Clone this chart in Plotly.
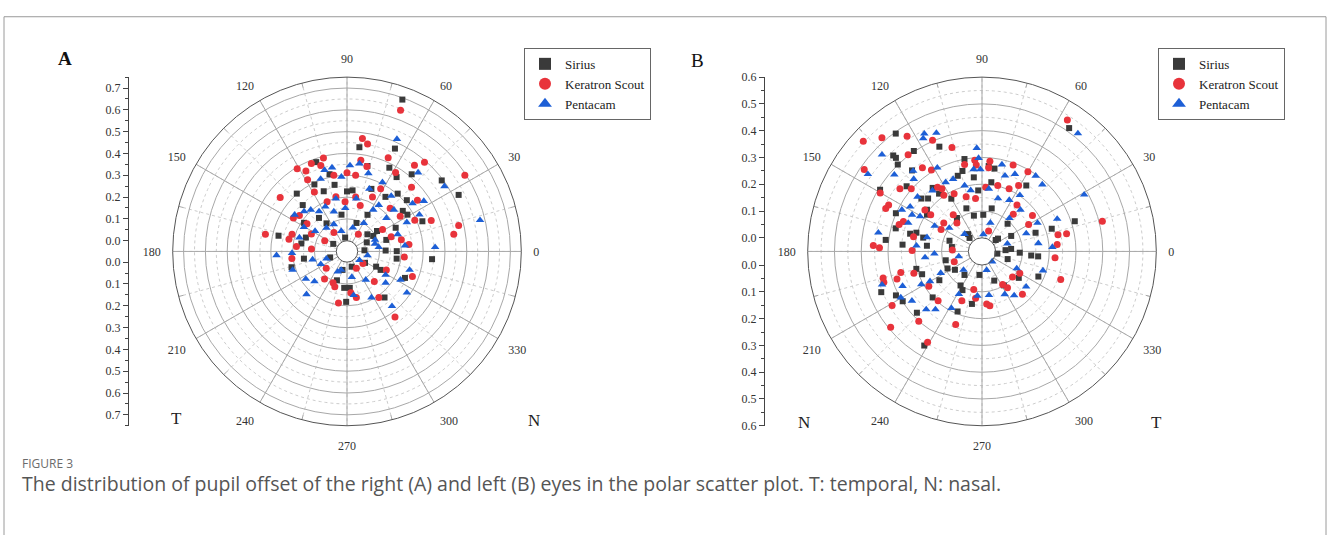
import numpy as np
import plotly.graph_objects as go

# ---------------- data: pupil offset components (X horizontal, Y vertical, mm) ----------------
A_SIRIUS = [(0.237,0.650),(0.051,0.429),(0.199,0.427),(-0.125,0.363),(0.172,0.340),(0.082,0.344),
            (-0.069,0.306),(0.200,0.300),(0.265,0.316),(0.395,0.296),(0.468,0.237),(-0.198,0.228),
            (-0.169,0.177),(-0.128,0.263),(-0.089,0.230),(-0.048,0.257),(0.000,0.226),(0.021,0.231),
            (0.094,0.241),(0.148,0.210),(0.200,0.228),(0.237,0.203),(0.235,0.143),(0.216,0.157),
            (0.300,0.120),(0.028,0.084),(0.070,0.125),(-0.018,0.120),(-0.065,0.089),(-0.097,0.116),
            (-0.156,0.104),(-0.142,0.048),(-0.161,0.028),(-0.266,0.061),(-0.020,0.011),(-0.002,0.015),
            (0.056,0.047),(0.097,0.066),(0.133,0.039),(0.179,0.087),(0.046,0.021),(0.031,0.002),
            (0.128,0.003),(0.179,0.001),(0.341,-0.031),(0.179,-0.026),(-0.149,-0.025),(-0.207,-0.059),
            (-0.031,-0.011),(0.007,-0.023),(0.041,-0.026),(0.090,-0.047),(0.111,-0.061),(0.221,-0.101),
            (-0.030,-0.086),(-0.009,-0.118),(0.009,-0.118),(-0.003,-0.182),(0.141,-0.173),(-0.009,-0.037),
            (0.078,0.046)]
A_KERATRON = [(0.228,0.601),(0.064,0.469),(0.085,0.444),(0.169,0.384),(0.056,0.370),(0.080,0.341),
              (0.197,0.320),(0.279,0.356),(0.323,0.372),(0.499,0.323),(-0.096,0.381),(-0.145,0.358),
              (-0.203,0.337),(-0.166,0.325),(-0.157,0.286),(-0.106,0.347),(-0.052,0.301),(0.034,0.301),
              (0.000,0.312),(-0.268,0.216),(-0.126,0.229),(-0.073,0.182),(-0.041,0.202),(-0.007,0.179),
              (0.032,0.201),(0.047,0.163),(0.096,0.205),(0.131,0.244),(0.163,0.163),(0.203,0.134),
              (0.261,0.260),(0.283,0.206),(0.266,0.122),(0.340,0.125),(0.464,0.108),(0.441,0.071),
              (-0.204,0.127),(-0.179,0.135),(-0.143,0.099),(-0.326,0.069),(-0.205,0.064),(-0.218,0.046),
              (-0.183,0.018),(-0.058,0.028),(-0.119,0.058),(-0.032,0.046),(0.025,0.038),(0.121,0.075),
              (0.201,0.043),(0.235,0.026),(0.214,-0.021),(0.254,-0.097),(0.136,-0.064),(-0.204,-0.026),
              (-0.114,0.008),(-0.057,-0.046),(-0.072,-0.088),(-0.044,-0.099),(-0.040,-0.116),(-0.031,-0.188),
              (0.013,-0.140),(0.033,-0.163),(0.019,-0.034),(0.034,-0.026),(0.092,-0.101),(0.118,-0.171),
              (0.191,-0.261),(0.156,0.052)]
A_PENTACAM = [(0.209,0.470),(0.012,0.345),(0.050,0.354),(-0.060,0.336),(-0.090,0.326),(-0.104,0.286),
              (-0.022,0.293),(0.085,0.311),(0.140,0.273),(0.293,0.325),(0.406,0.271),(0.172,0.216),
              (0.118,0.172),(0.086,0.241),(0.034,0.194),(-0.006,0.149),(-0.041,0.194),(-0.045,0.136),
              (-0.078,0.161),(-0.100,0.143),(-0.134,0.154),(-0.161,0.150),(-0.200,0.140),(-0.155,0.087),
              (-0.171,0.050),(-0.203,-0.006),(-0.274,-0.015),(-0.105,0.067),(-0.062,0.071),(-0.039,0.080),
              (-0.013,0.046),(0.015,0.061),(0.052,0.088),(0.094,0.149),(0.143,0.121),(0.178,0.158),
              (0.230,0.112),(0.288,0.146),(0.311,0.204),(0.261,0.191),(0.562,0.132),(0.097,0.013),
              (0.083,0.034),(0.217,0.022),(0.355,0.017),(0.186,0.063),(-0.110,-0.026),(-0.048,-0.017),
              (-0.022,-0.048),(-0.012,-0.038),(0.017,-0.012),(0.046,-0.009),(0.081,0.022),(0.135,-0.082),
              (0.202,-0.107),(0.240,-0.071),(0.234,-0.161),(0.139,-0.113),(0.089,-0.168),(0.175,-0.213),
              (0.059,-0.089),(0.013,-0.069),(-0.148,-0.099),(-0.113,-0.104),(-0.152,-0.161),(-0.203,-0.069),
              (-0.076,-0.037),(0.023,-0.152)]

B_SIRIUS = [(0.296,0.419),(-0.292,0.399),(-0.297,0.321),(-0.287,0.312),(-0.279,0.288),(-0.226,0.333),
            (-0.140,0.344),(-0.056,0.295),(-0.228,0.264),(-0.243,0.210),(-0.337,0.204),(-0.275,0.122),
            (-0.309,0.037),(-0.273,0.073),(-0.246,0.021),(-0.219,0.054),(-0.196,0.056),(-0.170,0.040),
            (-0.165,0.125),(-0.163,0.109),(-0.188,0.164),(-0.153,0.197),(-0.165,0.162),(-0.130,0.175),
            (-0.089,0.153),(-0.075,0.234),(-0.061,0.251),(-0.025,0.226),(-0.011,0.177),(-0.041,0.113),
            (-0.019,0.084),(0.003,0.086),(-0.063,0.084),(0.021,0.268),(0.039,0.259),(0.028,0.208),
            (0.025,0.111),(0.012,0.010),(0.020,0.016),(0.061,0.066),(0.064,0.034),(0.137,0.204),
            (0.152,0.053),(0.212,0.069),(0.298,0.097),(0.037,0.002),(0.058,0.005),(0.090,-0.003),
            (0.133,-0.011),(0.159,-0.014),(0.007,-0.001),(0.047,-0.014),(0.096,-0.069),(0.164,-0.073),
            (0.054,-0.084),(0.026,-0.062),(-0.004,-0.037),(-0.035,-0.047),(-0.059,-0.040),(-0.053,-0.084),
            (-0.050,-0.099),(-0.028,-0.146),(-0.072,-0.177),(-0.117,-0.079),(-0.147,-0.137),(-0.176,-0.067),
            (-0.196,-0.052),(-0.086,-0.021),(-0.083,-0.041),(-0.253,-0.159),(-0.276,-0.141),(-0.329,-0.133),
            (-0.206,-0.194),(-0.189,-0.308),(-0.155,0.016),(-0.073,0.024),(-0.062,0.009),(-0.020,0.025),
            (-0.012,0.013)]
B_KERATRON = [(0.291,0.448),(-0.406,0.377),(-0.398,0.277),(-0.340,0.386),(-0.252,0.387),(-0.245,0.321),
              (-0.164,0.369),(-0.098,0.339),(-0.055,0.275),(-0.023,0.290),(-0.018,0.272),(0.021,0.262),
              (0.025,0.286),(0.099,0.275),(0.146,0.253),(0.112,0.202),(0.081,0.187),(0.047,0.197),
              (0.011,0.189),(-0.018,0.147),(-0.045,0.155),(-0.082,0.170),(-0.122,0.191),(-0.114,0.168),
              (-0.137,0.198),(-0.162,0.261),(-0.193,0.271),(-0.226,0.200),(-0.266,0.203),(-0.336,0.193),
              (-0.313,0.140),(-0.303,0.151),(-0.246,0.094),(-0.261,0.085),(-0.355,0.019),(-0.332,0.012),
              (-0.206,0.044),(-0.210,0.003),(-0.172,0.125),(-0.150,0.107),(-0.102,0.076),(-0.108,0.058),
              (-0.076,0.097),(-0.060,0.068),(-0.060,0.003),(0.100,0.133),(0.084,0.100),(0.130,0.075),
              (0.147,0.105),(0.234,0.051),(0.266,0.056),(0.400,0.100),(0.230,0.021),(0.222,-0.019),
              (0.246,-0.088),(0.097,-0.056),(0.075,-0.063),(0.116,-0.123),(0.066,-0.094),(0.009,0.028),
              (0.013,-0.146),(0.022,-0.152),(-0.020,-0.092),(-0.056,-0.137),(-0.081,-0.225),(-0.056,-0.021),
              (-0.130,-0.146),(-0.156,-0.102),(-0.206,-0.066),(-0.254,-0.066),(-0.269,-0.087),(-0.320,-0.086),
              (-0.318,-0.100),(-0.292,-0.176),(-0.302,-0.251),(-0.202,-0.223),(-0.177,-0.295),(-0.017,-0.124),
              (0.050,-0.080)]
B_PENTACAM = [(0.326,0.401),(-0.017,0.335),(-0.193,0.394),(-0.152,0.395),(-0.196,0.377),(-0.337,0.326),
              (-0.289,0.253),(-0.384,0.260),(-0.224,0.262),(-0.143,0.268),(-0.011,0.298),(-0.026,0.256),
              (-0.005,0.256),(0.063,0.275),(0.071,0.234),(0.103,0.242),(0.171,0.241),(0.191,0.212),
              (0.113,0.168),(0.078,0.147),(0.045,0.149),(0.020,0.183),(-0.052,0.197),(-0.033,0.178),
              (-0.089,0.223),(-0.112,0.213),(-0.153,0.188),(-0.202,0.171),(-0.225,0.140),(-0.220,0.233),
              (-0.216,0.113),(-0.254,0.132),(-0.337,0.061),(-0.228,0.088),(-0.187,0.106),(-0.132,0.071),
              (-0.156,0.040),(-0.194,0.017),(-0.162,-0.017),(-0.127,-0.006),(-0.081,0.058),(-0.029,0.029),
              (0.001,0.013),(0.017,0.058),(0.070,0.085),(0.109,0.118),(0.162,0.083),(0.234,0.101),
              (0.337,0.187),(0.118,0.048),(0.160,0.023),(0.212,0.013),(0.179,-0.056),(0.125,-0.100),
              (0.090,-0.123),(0.061,-0.115),(0.084,-0.041),(0.002,-0.002),(0.046,0.014),(0.018,-0.113),
              (-0.012,-0.115),(-0.062,-0.115),(-0.090,-0.167),(-0.142,-0.177),(-0.173,-0.180),(-0.220,-0.155),
              (-0.250,-0.109),(-0.325,-0.108),(-0.259,-0.147),(-0.182,-0.099),(-0.150,-0.086),(-0.109,-0.057),
              (-0.037,-0.008),(-0.033,-0.033),(0.005,-0.020)]

SERIES = ["Sirius", "Keratron Scout", "Pentacam"]
ANGLE_TICKS = list(range(0, 360, 15))          # labelled every 30 degrees
RMAX_A, RMAX_B = 0.75, 0.6
RAD_TICKS_A = [0.0, 0.1, 0.2, 0.3, 0.4, 0.5, 0.6, 0.7]
RAD_TICKS_B = [0.0, 0.1, 0.2, 0.3, 0.4, 0.5, 0.6]
RAD_MINOR_A = [0.05, 0.15, 0.25, 0.35, 0.45, 0.55, 0.65, 0.75]
RAD_MINOR_B = [0.05, 0.15, 0.25, 0.35, 0.45, 0.55]

# ---------------- styling / geometry ----------------
W, H = 1328, 535
CX_A, CX_B, CY, R = 347, 982, 251, 179
HOLE_A, HOLE_B = 11 / 179, 14 / 179
AXLINE_A, AXLINE_B = 129, 765
SERIF = "Liberation Serif, Times New Roman, serif"
SANS = "Open Sans, Noto Sans, sans-serif"
STYLE = {
    "Sirius": dict(symbol="square", size=6, color="#3a3a3a"),
    "Keratron Scout": dict(symbol="circle", size=7, color="#e8333b"),
    "Pentacam": dict(symbol="triangle-up", size=7.5, color="#1d5fd6"),
}

fig = go.Figure()


def polar_of(pairs):
    arr = np.array(pairs, dtype=float)
    r = np.hypot(arr[:, 0], arr[:, 1])
    th = np.degrees(np.arctan2(arr[:, 1], arr[:, 0])) % 360
    return r, th


def add_grid(sub, rmax, minor_r):
    th = np.arange(0, 361, 2)
    rr, tt = [], []
    for r in minor_r:
        if r >= rmax - 1e-9:
            continue
        rr += [r] * len(th) + [None]
        tt += list(th) + [None]
    fig.add_trace(go.Scatterpolar(r=rr, theta=tt, mode="lines", subplot=sub,
                                  line=dict(color="#cccccc", width=1, dash="dot"),
                                  showlegend=False, hoverinfo="skip"))
    rr, tt = [], []
    for a in ANGLE_TICKS:
        if a % 30 == 0:
            rr += [0, rmax, None]
        else:  # short inner tick on the outer ring
            rr += [rmax * 0.97, rmax, None]
        tt += [a, a, None]
    fig.add_trace(go.Scatterpolar(r=rr, theta=tt, mode="lines", subplot=sub,
                                  line=dict(color="#a8a8a8", width=1),
                                  showlegend=False, hoverinfo="skip"))


add_grid("polar", RMAX_A, RAD_MINOR_A)
add_grid("polar2", RMAX_B, RAD_MINOR_B)

for sub, leg, groups in [("polar", "legend", [A_SIRIUS, A_KERATRON, A_PENTACAM]),
                         ("polar2", "legend2", [B_SIRIUS, B_KERATRON, B_PENTACAM])]:
    for name, pairs in zip(SERIES, groups):
        r, th = polar_of(pairs)
        st = STYLE[name]
        fig.add_trace(go.Scatterpolar(
            r=r, theta=th, mode="markers", name=name, subplot=sub, legend=leg,
            marker=dict(symbol=st["symbol"], size=st["size"], color=st["color"], line=dict(width=0)),
        ))

# dummy traces so the left radial scales render
fig.add_trace(go.Scatter(x=[None], y=[None], xaxis="x", yaxis="y", showlegend=False, hoverinfo="skip"))
fig.add_trace(go.Scatter(x=[None], y=[None], xaxis="x2", yaxis="y2", showlegend=False, hoverinfo="skip"))


def polar_layout(cx, rmax, hole, rticks):
    return dict(
        domain=dict(x=[(cx - R) / W, (cx + R) / W], y=[(H - CY - R) / H, (H - CY + R) / H]),
        bgcolor="white",
        hole=hole,
        radialaxis=dict(range=[0, rmax], tickvals=[t for t in rticks if t > 0],
                        showticklabels=False, ticks="", showline=False,
                        showgrid=True, gridcolor="#a8a8a8", gridwidth=1),
        angularaxis=dict(rotation=0, direction="counterclockwise",
                         tickvals=ANGLE_TICKS,
                         ticktext=[str(a) if a % 30 == 0 else "" for a in ANGLE_TICKS],
                         ticks="outside", ticklen=9, tickcolor="rgba(0,0,0,0)",
                         showline=True, linecolor="#555555", linewidth=1,
                         showgrid=True, gridcolor="#cccccc", griddash="dot",
                         tickfont=dict(family=SERIF, size=12, color="#333333")),
    )


def side_axis(rmax, hole, rticks, rminor, anchor):
    f = lambda r: hole + r / rmax * (1 - hole)
    vals = [f(r) for r in rticks] + [-f(r) for r in rticks]
    text = [f"{r:.1f}" for r in rticks] * 2
    mvals = [f(r) for r in rminor] + [-f(r) for r in rminor]
    return dict(anchor=anchor, domain=[(H - CY - R) / H, (H - CY + R) / H], range=[-1, 1],
                tickmode="array", tickvals=vals, ticktext=text, ticks="outside", ticklen=5,
                tickcolor="#444444", showline=True, linecolor="#444444", linewidth=1,
                showgrid=False, zeroline=False, fixedrange=True,
                tickfont=dict(family=SERIF, size=12, color="#333333"),
                minor=dict(tickmode="array", tickvals=mvals, ticks="outside", ticklen=3,
                           tickcolor="#444444", showgrid=False))


def legend_at(x_px):
    return dict(x=x_px / W, y=1 - 42 / H, xanchor="left", yanchor="top",
                bgcolor="white", bordercolor="#666666", borderwidth=1,
                font=dict(family=SERIF, size=13, color="#222222"),
                tracegroupgap=0, itemsizing="constant")


annotations = [
    dict(text="<b>A</b>", x=65 / W, y=1 - 53 / H, font=dict(family=SERIF, size=19, color="#111")),
    dict(text="B", x=697 / W, y=1 - 55 / H, font=dict(family=SERIF, size=19, color="#111")),
    dict(text="T", x=176 / W, y=1 - 423 / H, font=dict(family=SERIF, size=17, color="#222")),
    dict(text="N", x=534 / W, y=1 - 425 / H, font=dict(family=SERIF, size=17, color="#222")),
    dict(text="N", x=804 / W, y=1 - 427 / H, font=dict(family=SERIF, size=17, color="#222")),
    dict(text="T", x=1156 / W, y=1 - 427 / H, font=dict(family=SERIF, size=17, color="#222")),
    dict(text="FIGURE 3", x=20 / W, y=1 - 469 / H, xanchor="left",
         font=dict(family=SANS, size=12, color="#6b6b6b")),
    dict(text="The distribution of pupil offset of the right (A) and left (B) eyes in the polar scatter plot. "
              "T: temporal, N: nasal.",
         x=20 / W, y=1 - 489 / H, xanchor="left",
         font=dict(family=SANS, size=19.5, color="#555555")),
]
for a in annotations:
    a.update(xref="paper", yref="paper", showarrow=False)
    a.setdefault("xanchor", "center")
    a["yanchor"] = "middle"

fig.update_layout(
    width=W, height=H, margin=dict(l=0, r=0, t=0, b=0),
    paper_bgcolor="white", plot_bgcolor="white",
    polar=polar_layout(CX_A, RMAX_A, HOLE_A, RAD_TICKS_A),
    polar2=polar_layout(CX_B, RMAX_B, HOLE_B, RAD_TICKS_B),
    xaxis=dict(domain=[AXLINE_A / W, (AXLINE_A + 1) / W], visible=False, fixedrange=True),
    xaxis2=dict(domain=[AXLINE_B / W, (AXLINE_B + 1) / W], visible=False, fixedrange=True),
    yaxis=side_axis(RMAX_A, HOLE_A, RAD_TICKS_A, RAD_MINOR_A, "x"),
    yaxis2=side_axis(RMAX_B, HOLE_B, RAD_TICKS_B, RAD_MINOR_B, "x2"),
    legend=legend_at(524),
    legend2=legend_at(1158),
    annotations=annotations,
    shapes=[dict(type="rect", xref="paper", yref="paper", x0=4 / W, x1=1326 / W,
                 y0=-0.05, y1=1 - 10 / H, line=dict(color="#9a9a9a", width=1), layer="below")],
    showlegend=True,
)

fig.write_html("out.html", config={"displayModeBar": False},
               post_script="document.body.style.margin='0px';document.body.style.overflow='hidden';")
